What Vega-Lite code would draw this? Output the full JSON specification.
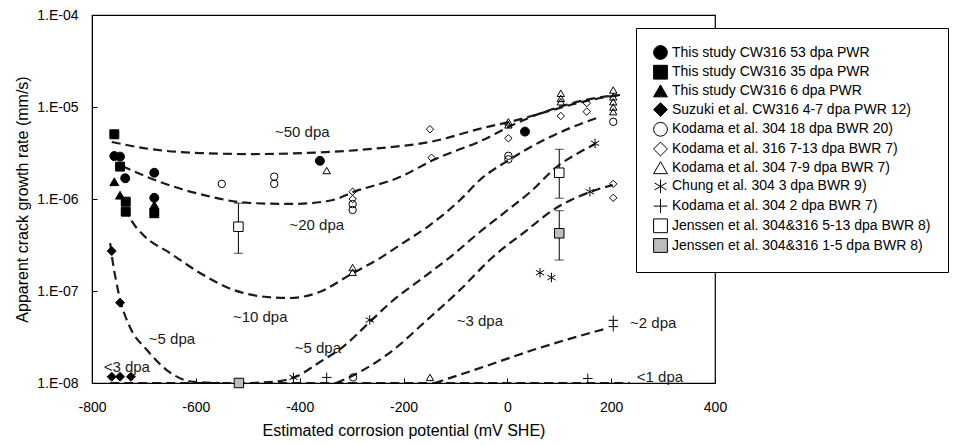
{
  "$schema": "https://vega.github.io/schema/vega-lite/v6.json",
  "width": 623,
  "height": 368,
  "autosize": {"type": "none"},
  "padding": {"left": 92, "top": 15, "right": 264, "bottom": 62},
  "background": "white",
  "config": {
    "font": "Liberation Sans",
    "view": {"stroke": "black", "strokeWidth": 1.2},
    "axis": {
      "grid": false,
      "labelFont": "Liberation Sans",
      "labelFontSize": 14,
      "labelColor": "black",
      "titleFont": "Liberation Sans",
      "titleFontSize": 16,
      "titleFontWeight": "normal",
      "titleColor": "black",
      "domainColor": "black",
      "tickColor": "black",
      "tickSize": -5,
      "labelFlush": false,
      "labelOverlap": false
    },
    "legend": {
      "title": null,
      "labelFont": "Liberation Sans",
      "labelFontSize": 14,
      "labelColor": "black",
      "labelLimit": 400,
      "symbolSize": 190,
      "symbolStrokeColor": "black",
      "symbolStrokeWidth": 1,
      "strokeColor": "black",
      "fillColor": "white",
      "padding": 17,
      "rowPadding": 0.7,
      "labelOffset": 4
    }
  },
  "datasets": {
    "points": [
      {"s": "This study CW316 53 dpa PWR", "x": -757, "y": 2.93e-6},
      {"s": "This study CW316 53 dpa PWR", "x": -746, "y": 2.89e-6},
      {"s": "This study CW316 53 dpa PWR", "x": -736, "y": 1.68e-6},
      {"s": "This study CW316 53 dpa PWR", "x": -680, "y": 1.93e-6},
      {"s": "This study CW316 53 dpa PWR", "x": -680, "y": 1.03e-6},
      {"s": "This study CW316 53 dpa PWR", "x": -361, "y": 2.6e-6},
      {"s": "This study CW316 53 dpa PWR", "x": 34, "y": 5.4e-6},
      {"s": "This study CW316 35 dpa PWR", "x": -757, "y": 5.05e-6},
      {"s": "This study CW316 35 dpa PWR", "x": -746, "y": 2.25e-6},
      {"s": "This study CW316 35 dpa PWR", "x": -735, "y": 9.35e-7},
      {"s": "This study CW316 35 dpa PWR", "x": -735, "y": 7.28e-7},
      {"s": "This study CW316 35 dpa PWR", "x": -680, "y": 7.0e-7},
      {"s": "This study CW316 6 dpa PWR", "x": -757, "y": 1.54e-6},
      {"s": "This study CW316 6 dpa PWR", "x": -746, "y": 1.1e-6},
      {"s": "This study CW316 6 dpa PWR", "x": -680, "y": 8.6e-7},
      {"s": "Suzuki et al. CW316 4-7 dpa PWR 12)", "x": -762, "y": 2.72e-7},
      {"s": "Suzuki et al. CW316 4-7 dpa PWR 12)", "x": -746, "y": 7.46e-8},
      {"s": "Suzuki et al. CW316 4-7 dpa PWR 12)", "x": -762, "y": 1.17e-8},
      {"s": "Suzuki et al. CW316 4-7 dpa PWR 12)", "x": -746, "y": 1.17e-8},
      {"s": "Suzuki et al. CW316 4-7 dpa PWR 12)", "x": -725, "y": 1.17e-8},
      {"s": "Kodama et al. 304 18 dpa BWR 20)", "x": -550, "y": 1.46e-6},
      {"s": "Kodama et al. 304 18 dpa BWR 20)", "x": -449, "y": 1.75e-6},
      {"s": "Kodama et al. 304 18 dpa BWR 20)", "x": -449, "y": 1.46e-6},
      {"s": "Kodama et al. 304 18 dpa BWR 20)", "x": -298, "y": 8.8e-7},
      {"s": "Kodama et al. 304 18 dpa BWR 20)", "x": -298, "y": 7.6e-7},
      {"s": "Kodama et al. 304 18 dpa BWR 20)", "x": 2, "y": 2.7e-6},
      {"s": "Kodama et al. 304 18 dpa BWR 20)", "x": 2, "y": 2.95e-6},
      {"s": "Kodama et al. 304 18 dpa BWR 20)", "x": 204, "y": 6.9e-6},
      {"s": "Kodama et al. 304 18 dpa BWR 20)", "x": -297, "y": 1.15e-8},
      {"s": "Kodama et al. 316 7-13 dpa BWR 7)", "x": -149, "y": 5.73e-6},
      {"s": "Kodama et al. 316 7-13 dpa BWR 7)", "x": -146, "y": 2.81e-6},
      {"s": "Kodama et al. 316 7-13 dpa BWR 7)", "x": -298, "y": 1.2e-6},
      {"s": "Kodama et al. 316 7-13 dpa BWR 7)", "x": -298, "y": 1.0e-6},
      {"s": "Kodama et al. 316 7-13 dpa BWR 7)", "x": 2, "y": 4.57e-6},
      {"s": "Kodama et al. 316 7-13 dpa BWR 7)", "x": 103, "y": 7.98e-6},
      {"s": "Kodama et al. 316 7-13 dpa BWR 7)", "x": 153, "y": 1.1e-5},
      {"s": "Kodama et al. 316 7-13 dpa BWR 7)", "x": 153, "y": 8.9e-6},
      {"s": "Kodama et al. 316 7-13 dpa BWR 7)", "x": 204, "y": 1.46e-6},
      {"s": "Kodama et al. 316 7-13 dpa BWR 7)", "x": 204, "y": 1.03e-6},
      {"s": "Kodama et al. 304 7-9 dpa BWR 7)", "x": -348, "y": 2.04e-6},
      {"s": "Kodama et al. 304 7-9 dpa BWR 7)", "x": -298, "y": 1.8e-7},
      {"s": "Kodama et al. 304 7-9 dpa BWR 7)", "x": -298, "y": 1.6e-7},
      {"s": "Kodama et al. 304 7-9 dpa BWR 7)", "x": 2, "y": 6.9e-6},
      {"s": "Kodama et al. 304 7-9 dpa BWR 7)", "x": 2, "y": 6.4e-6},
      {"s": "Kodama et al. 304 7-9 dpa BWR 7)", "x": 103, "y": 1.41e-5},
      {"s": "Kodama et al. 304 7-9 dpa BWR 7)", "x": 103, "y": 1.24e-5},
      {"s": "Kodama et al. 304 7-9 dpa BWR 7)", "x": 103, "y": 1.14e-5},
      {"s": "Kodama et al. 304 7-9 dpa BWR 7)", "x": 204, "y": 1.53e-5},
      {"s": "Kodama et al. 304 7-9 dpa BWR 7)", "x": 204, "y": 1.29e-5},
      {"s": "Kodama et al. 304 7-9 dpa BWR 7)", "x": 204, "y": 1.14e-5},
      {"s": "Kodama et al. 304 7-9 dpa BWR 7)", "x": 204, "y": 1.0e-5},
      {"s": "Kodama et al. 304 7-9 dpa BWR 7)", "x": 204, "y": 8.9e-6},
      {"s": "Kodama et al. 304 7-9 dpa BWR 7)", "x": -149, "y": 1.15e-8},
      {"s": "Chung et al. 304 3 dpa BWR 9)", "x": -265, "y": 4.84e-8},
      {"s": "Chung et al. 304 3 dpa BWR 9)", "x": -412, "y": 1.15e-8},
      {"s": "Chung et al. 304 3 dpa BWR 9)", "x": 63, "y": 1.58e-7},
      {"s": "Chung et al. 304 3 dpa BWR 9)", "x": 85, "y": 1.4e-7},
      {"s": "Chung et al. 304 3 dpa BWR 9)", "x": 169, "y": 4.03e-6},
      {"s": "Chung et al. 304 3 dpa BWR 9)", "x": 159, "y": 1.2e-6},
      {"s": "Kodama et al. 304 2 dpa BWR 7)", "x": -348, "y": 1.15e-8},
      {"s": "Kodama et al. 304 2 dpa BWR 7)", "x": 155, "y": 1.12e-8},
      {"s": "Kodama et al. 304 2 dpa BWR 7)", "x": 204, "y": 4.8e-8},
      {"s": "Kodama et al. 304 2 dpa BWR 7)", "x": 204, "y": 4.1e-8},
      {"s": "Jenssen et al. 304&316 5-13 dpa BWR 8)", "x": -518, "y": 5.0e-7},
      {"s": "Jenssen et al. 304&316 5-13 dpa BWR 8)", "x": 100, "y": 1.93e-6},
      {"s": "Jenssen et al. 304&316 1-5 dpa BWR 8)", "x": 100, "y": 4.24e-7},
      {"s": "Jenssen et al. 304&316 1-5 dpa BWR 8)", "x": -517, "y": 1.0e-8}
    ],
    "errs": [
      {"x": -518, "lo": 2.57e-7, "hi": 9.0e-7},
      {"x": 100, "lo": 1.02e-6, "hi": 3.47e-6},
      {"x": 100, "lo": 2.17e-7, "hi": 7.46e-7}
    ],
    "curves": [
      {"c": "50", "x": -762, "y": 4.17e-6},
      {"c": "50", "x": -688, "y": 3.49e-6},
      {"c": "50", "x": -592, "y": 3.16e-6},
      {"c": "50", "x": -496, "y": 3.08e-6},
      {"c": "50", "x": -367, "y": 3.2e-6},
      {"c": "50", "x": -239, "y": 3.6e-6},
      {"c": "50", "x": -149, "y": 4.17e-6},
      {"c": "50", "x": -47, "y": 5.91e-6},
      {"c": "50", "x": 18, "y": 7.2e-6},
      {"c": "50", "x": 82, "y": 9.1e-6},
      {"c": "50", "x": 159, "y": 1.19e-5},
      {"c": "50", "x": 217, "y": 1.35e-5},
      {"c": "20", "x": -742, "y": 2.28e-6},
      {"c": "20", "x": -669, "y": 1.53e-6},
      {"c": "20", "x": -592, "y": 1.13e-6},
      {"c": "20", "x": -496, "y": 9.05e-7},
      {"c": "20", "x": -413, "y": 8.83e-7},
      {"c": "20", "x": -336, "y": 9.75e-7},
      {"c": "20", "x": -297, "y": 1.19e-6},
      {"c": "20", "x": -207, "y": 1.73e-6},
      {"c": "20", "x": -143, "y": 2.65e-6},
      {"c": "20", "x": -47, "y": 4.38e-6},
      {"c": "20", "x": 18, "y": 6.7e-6},
      {"c": "20", "x": 82, "y": 9.27e-6},
      {"c": "20", "x": 159, "y": 1.22e-5},
      {"c": "20", "x": 217, "y": 1.35e-5},
      {"c": "10", "x": -736, "y": 7.97e-7},
      {"c": "10", "x": -722, "y": 5.6e-7},
      {"c": "10", "x": -700, "y": 4.0e-7},
      {"c": "10", "x": -650, "y": 2.59e-7},
      {"c": "10", "x": -592, "y": 1.57e-7},
      {"c": "10", "x": -528, "y": 1.03e-7},
      {"c": "10", "x": -463, "y": 8.61e-8},
      {"c": "10", "x": -419, "y": 8.39e-8},
      {"c": "10", "x": -367, "y": 9.51e-8},
      {"c": "10", "x": -297, "y": 1.57e-7},
      {"c": "10", "x": -245, "y": 2.28e-7},
      {"c": "10", "x": -207, "y": 3.16e-7},
      {"c": "10", "x": -149, "y": 5.21e-7},
      {"c": "10", "x": -91, "y": 9.75e-7},
      {"c": "10", "x": -53, "y": 1.61e-6},
      {"c": "10", "x": 3, "y": 2.65e-6},
      {"c": "10", "x": 63, "y": 4.17e-6},
      {"c": "10", "x": 121, "y": 5.91e-6},
      {"c": "10", "x": 178, "y": 7.78e-6},
      {"c": "5a", "x": -765, "y": 3.32e-7},
      {"c": "5a", "x": -762, "y": 2.46e-7},
      {"c": "5a", "x": -754, "y": 1.32e-7},
      {"c": "5a", "x": -744, "y": 7.41e-8},
      {"c": "5a", "x": -727, "y": 4.06e-8},
      {"c": "5a", "x": -694, "y": 2.28e-8},
      {"c": "5a", "x": -656, "y": 1.38e-8},
      {"c": "5a", "x": -605, "y": 1.03e-8},
      {"c": "5a", "x": -553, "y": 1.0e-8},
      {"c": "5b", "x": -496, "y": 1.0e-8},
      {"c": "5b", "x": -438, "y": 1.05e-8},
      {"c": "5b", "x": -409, "y": 1.16e-8},
      {"c": "5b", "x": -361, "y": 1.69e-8},
      {"c": "5b", "x": -317, "y": 2.46e-8},
      {"c": "5b", "x": -265, "y": 4.6e-8},
      {"c": "5b", "x": -226, "y": 7.41e-8},
      {"c": "5b", "x": -168, "y": 1.32e-7},
      {"c": "5b", "x": -110, "y": 2.34e-7},
      {"c": "5b", "x": -53, "y": 4.38e-7},
      {"c": "5b", "x": -14, "y": 6.53e-7},
      {"c": "5b", "x": 44, "y": 1.19e-6},
      {"c": "5b", "x": 97, "y": 2.28e-6},
      {"c": "5b", "x": 140, "y": 3.24e-6},
      {"c": "5b", "x": 169, "y": 3.96e-6},
      {"c": "3", "x": -330, "y": 1.0e-8},
      {"c": "3", "x": -284, "y": 1.32e-8},
      {"c": "3", "x": -220, "y": 2.28e-8},
      {"c": "3", "x": -159, "y": 4.6e-8},
      {"c": "3", "x": -91, "y": 1.03e-7},
      {"c": "3", "x": -28, "y": 2.34e-7},
      {"c": "3", "x": 38, "y": 4.6e-7},
      {"c": "3", "x": 88, "y": 7.59e-7},
      {"c": "3", "x": 159, "y": 1.19e-6},
      {"c": "3", "x": 203, "y": 1.42e-6},
      {"c": "2", "x": -140, "y": 1.0e-8},
      {"c": "2", "x": -47, "y": 1.49e-8},
      {"c": "2", "x": 49, "y": 2.28e-8},
      {"c": "2", "x": 146, "y": 3.33e-8},
      {"c": "2", "x": 194, "y": 3.96e-8},
      {"c": "base", "x": -765, "y": 1.0e-8},
      {"c": "base", "x": 236, "y": 1.0e-8}
    ],
    "labels": [
      {"t": "~50 dpa", "x": -395, "y": 5.35e-6},
      {"t": "~20 dpa", "x": -367, "y": 5.21e-7},
      {"t": "~10 dpa", "x": -476, "y": 5.21e-8},
      {"t": "~5 dpa", "x": -646, "y": 3.0e-8},
      {"t": "<3 dpa", "x": -733, "y": 1.49e-8},
      {"t": "~5 dpa", "x": -365, "y": 2.4e-8},
      {"t": "~3 dpa", "x": -53, "y": 4.72e-8},
      {"t": "~2 dpa", "x": 281, "y": 4.49e-8},
      {"t": "<1 dpa", "x": 294, "y": 1.16e-8}
    ]
  },
  "layer": [
    {
      "data": {"name": "curves"},
      "mark": {"type": "line", "interpolate": "monotone", "stroke": "#1a1a1a", "strokeWidth": 2.2, "strokeDash": [9, 5], "clip": true},
      "encoding": {
        "x": {"field": "x", "type": "quantitative", "scale": {"domain": [-800, 400], "nice": false, "zero": false},
          "axis": {"title": "Estimated corrosion potential (mV SHE)", "values": [-800, -600, -400, -200, 0, 200, 400], "labelExpr": "'' + datum.value", "labelPadding": 22, "titlePadding": 8}},
        "y": {"field": "y", "type": "quantitative", "scale": {"type": "log", "domain": [1e-8, 1e-4], "nice": false},
          "axis": {"title": "Apparent crack growth rate (mm/s)", "values": [1e-8, 1e-7, 1e-6, 1e-5, 1e-4], "labelExpr": "'1.E-0' + round(-log(datum.value) / LN10)", "labelPadding": 19, "titlePadding": 6}},
        "detail": {"field": "c", "type": "nominal"}
      }
    },
    {
      "data": {"name": "errs"},
      "mark": {"type": "rule", "stroke": "black", "strokeWidth": 1},
      "encoding": {
        "x": {"field": "x", "type": "quantitative"},
        "y": {"field": "lo", "type": "quantitative"},
        "y2": {"field": "hi"}
      }
    },
    {
      "data": {"name": "errs"},
      "mark": {"type": "tick", "orient": "horizontal", "size": 9, "thickness": 1, "color": "black"},
      "encoding": {
        "x": {"field": "x", "type": "quantitative"},
        "y": {"field": "lo", "type": "quantitative"}
      }
    },
    {
      "data": {"name": "errs"},
      "mark": {"type": "tick", "orient": "horizontal", "size": 9, "thickness": 1, "color": "black"},
      "encoding": {
        "x": {"field": "x", "type": "quantitative"},
        "y": {"field": "hi", "type": "quantitative"}
      }
    },
    {
      "data": {"name": "points"},
      "transform": [{"filter": {"field": "s", "oneOf": ["This study CW316 53 dpa PWR", "This study CW316 35 dpa PWR", "This study CW316 6 dpa PWR", "Suzuki et al. CW316 4-7 dpa PWR 12)"]}}],
      "mark": {"type": "point", "strokeWidth": 1, "opacity": 1, "size": 80},
      "encoding": {
        "x": {"field": "x", "type": "quantitative"},
        "y": {"field": "y", "type": "quantitative"},
        "shape": {"field": "s", "type": "nominal",
          "scale": {
            "domain": ["This study CW316 53 dpa PWR", "This study CW316 35 dpa PWR", "This study CW316 6 dpa PWR", "Suzuki et al. CW316 4-7 dpa PWR 12)", "Kodama et al. 304 18 dpa BWR 20)", "Kodama et al. 316 7-13 dpa BWR 7)", "Kodama et al. 304 7-9 dpa BWR 7)", "Chung et al. 304 3 dpa BWR 9)", "Kodama et al. 304 2 dpa BWR 7)", "Jenssen et al. 304&316 5-13 dpa BWR 8)", "Jenssen et al. 304&316 1-5 dpa BWR 8)"],
            "range": ["circle", "square", "triangle-up", "diamond", "circle", "diamond", "triangle-up", "M0,-1L0,1M-0.87,-0.5L0.87,0.5M-0.87,0.5L0.87,-0.5", "M-1,0L1,0M0,-1L0,1", "square", "square"]
          },
          "legend": {"orient": "none", "legendX": 544, "legendY": 13}
        },
        "fill": {"field": "s", "type": "nominal",
          "scale": {
            "domain": ["This study CW316 53 dpa PWR", "This study CW316 35 dpa PWR", "This study CW316 6 dpa PWR", "Suzuki et al. CW316 4-7 dpa PWR 12)", "Kodama et al. 304 18 dpa BWR 20)", "Kodama et al. 316 7-13 dpa BWR 7)", "Kodama et al. 304 7-9 dpa BWR 7)", "Chung et al. 304 3 dpa BWR 9)", "Kodama et al. 304 2 dpa BWR 7)", "Jenssen et al. 304&316 5-13 dpa BWR 8)", "Jenssen et al. 304&316 1-5 dpa BWR 8)"],
            "range": ["black", "black", "black", "black", "transparent", "transparent", "transparent", "transparent", "transparent", "white", "#bdbdbd"]
          },
          "legend": {"orient": "none", "legendX": 544, "legendY": 13}
        },
        "stroke": {"field": "s", "type": "nominal",
          "scale": {
            "domain": ["This study CW316 53 dpa PWR", "This study CW316 35 dpa PWR", "This study CW316 6 dpa PWR", "Suzuki et al. CW316 4-7 dpa PWR 12)", "Kodama et al. 304 18 dpa BWR 20)", "Kodama et al. 316 7-13 dpa BWR 7)", "Kodama et al. 304 7-9 dpa BWR 7)", "Chung et al. 304 3 dpa BWR 9)", "Kodama et al. 304 2 dpa BWR 7)", "Jenssen et al. 304&316 5-13 dpa BWR 8)", "Jenssen et al. 304&316 1-5 dpa BWR 8)"],
            "range": ["black", "black", "black", "black", "black", "black", "black", "black", "black", "black", "black"]
          },
          "legend": {"orient": "none", "legendX": 544, "legendY": 13}
        }
      }
    },
    {
      "data": {"name": "points"},
      "transform": [{"filter": {"field": "s", "oneOf": ["Kodama et al. 304 18 dpa BWR 20)", "Kodama et al. 316 7-13 dpa BWR 7)", "Kodama et al. 304 7-9 dpa BWR 7)"]}}],
      "mark": {"type": "point", "strokeWidth": 1, "opacity": 1, "size": 55},
      "encoding": {
        "x": {"field": "x", "type": "quantitative"},
        "y": {"field": "y", "type": "quantitative"},
        "shape": {"field": "s", "type": "nominal", "legend": {"orient": "none", "legendX": 544, "legendY": 13}},
        "fill": {"field": "s", "type": "nominal", "legend": {"orient": "none", "legendX": 544, "legendY": 13}},
        "stroke": {"field": "s", "type": "nominal", "legend": {"orient": "none", "legendX": 544, "legendY": 13}}
      }
    },
    {
      "data": {"name": "points"},
      "transform": [{"filter": {"field": "s", "oneOf": ["Chung et al. 304 3 dpa BWR 9)", "Kodama et al. 304 2 dpa BWR 7)", "Jenssen et al. 304&316 5-13 dpa BWR 8)", "Jenssen et al. 304&316 1-5 dpa BWR 8)"]}}],
      "mark": {"type": "point", "strokeWidth": 1, "opacity": 1, "size": 90},
      "encoding": {
        "x": {"field": "x", "type": "quantitative"},
        "y": {"field": "y", "type": "quantitative"},
        "shape": {"field": "s", "type": "nominal", "legend": {"orient": "none", "legendX": 544, "legendY": 13}},
        "fill": {"field": "s", "type": "nominal", "legend": {"orient": "none", "legendX": 544, "legendY": 13}},
        "stroke": {"field": "s", "type": "nominal", "legend": {"orient": "none", "legendX": 544, "legendY": 13}}
      }
    },
    {
      "data": {"name": "labels"},
      "mark": {"type": "text", "font": "Liberation Sans", "fontSize": 15, "color": "#1a1a1a", "align": "center", "baseline": "middle"},
      "encoding": {
        "x": {"field": "x", "type": "quantitative"},
        "y": {"field": "y", "type": "quantitative"},
        "text": {"field": "t"}
      }
    }
  ]
}
